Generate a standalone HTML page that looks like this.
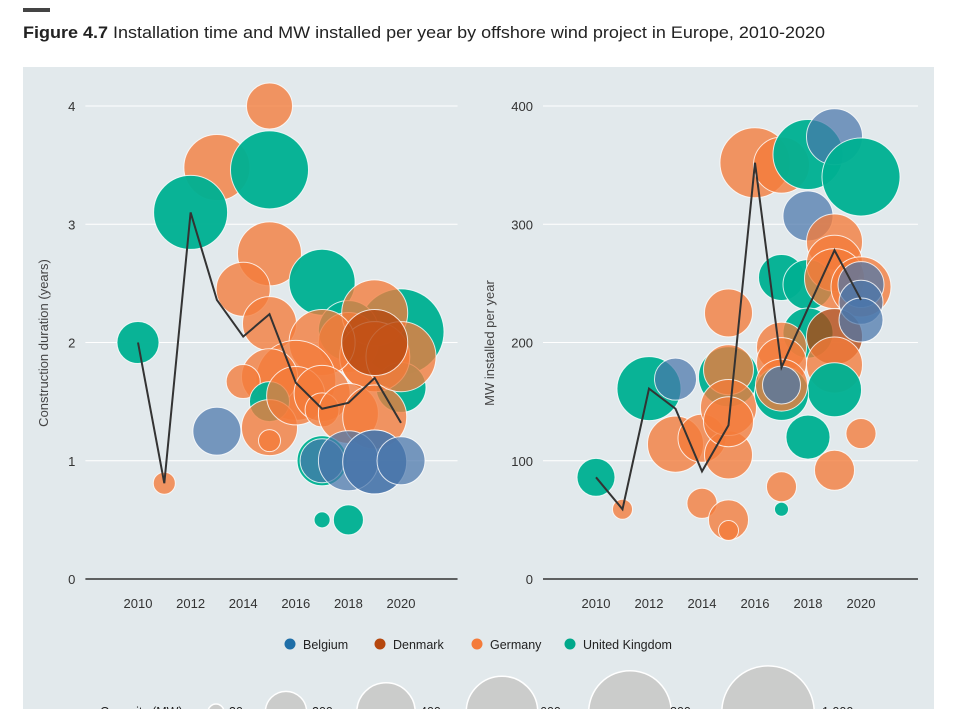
<!DOCTYPE html>
<html><head><meta charset="utf-8"><style>
body{margin:0;background:#fff;width:953px;height:709px;overflow:hidden;font-family:"Liberation Sans",sans-serif}
svg text{font-family:"Liberation Sans",sans-serif}
</style></head><body>
<svg id="c" width="953" height="709" style="display:block;overflow:hidden">
<rect x="23" y="8" width="27" height="4" fill="#444"/>
<text x="23" y="38" font-size="17" fill="#222" textLength="802" lengthAdjust="spacingAndGlyphs"><tspan font-weight="bold">Figure 4.7</tspan> Installation time and MW installed per year by offshore wind project in Europe, 2010-2020</text>
<rect x="23" y="67" width="911" height="642" fill="#e2e9ec"/>
<g id="left"></g>
<g id="right"></g>
<g id="legend"></g>
</svg>
<script>
const NS='http://www.w3.org/2000/svg';
const countries=['Belgium','Denmark','Germany','United Kingdom'];
const fills=['#4a76aa','#b5470e','#f47b3a','#00b092'];
const opac=[0.72,0.78,0.78,0.96];
const dotCols=['#1f6fa8','#b5470e','#f47b3a','#00a88a'];
const years=[2010,2011,2012,2013,2014,2015,2016,2017,2018,2019,2020];
const avgDuration=[2.0,0.81,3.1,2.36,2.05,2.24,1.66,1.44,1.49,1.70,1.32];
const avgMW=[86,59,161,144,91,130,352,179,229,278,236];
// left bubbles: year, duration, capacity, country index
const lYear=[2015,2013,2015,2012,2015,2017,2014,2015,2010,2020,2018,2018,2019,2019,2020,2019,2017,2016,2015,2014,2015,2015,2016,2015,2013,2011,2017,2017,2018,2019,2020,2019,2017,2017,2017,2018,2019];
const lDur=[4.0,3.48,3.46,3.1,2.75,2.51,2.45,2.16,2.0,2.09,2.1,2.0,2.25,1.88,1.62,1.88,2.0,1.68,1.71,1.67,1.5,1.28,1.55,1.17,1.25,0.81,1.57,1.43,1.4,1.37,1.88,2.0,1.0,1.0,0.5,0.5,0.99];
const lCap=[248,511,714,642,480,511,342,342,207,867,422,422,511,575,293,575,511,750,368,136,188,368,400,57,270,57,368,136,422,480,575,511,293,227,30,106,480];
const lCountry=[2,2,3,3,2,3,2,2,3,3,3,2,2,2,3,2,2,2,2,2,3,2,2,2,0,2,2,2,2,2,2,1,3,0,3,3,0];
const lBlueYear=[2018,2019,2020];
const lBlueDur=[1.0,0.99,1.0];
const lBlueCap=[422,480,270];
// right bubbles
const rYear=[2010,2011,2012,2013,2013,2014,2014,2015,2015,2015,2015,2015,2015,2015,2015,2016,2017,2018,2019,2020,2018,2019,2017,2018,2019,2019,2020,2018,2019,2019,2019,2017,2017,2017,2017,2017,2018,2020,2019,2017,2017,2020,2020,2020];
const rMW=[86,59,161,169,114,119,64,50,41,105,225,171,177,145,133,352,350,359,374,340,307,285,255,249,267,254,247,208,205,181,160,196,183,157,164,164,120,123,92,78,59,249,234,219];
const rCap=[169,47,480,207,368,270,106,188,47,270,270,422,293,368,293,575,368,575,368,714,293,368,248,293,368,422,422,293,368,368,342,293,293,342,317,169,227,106,188,106,23,248,227,227];
const rCountry=[3,2,3,0,2,2,2,2,2,2,2,3,2,2,2,2,2,3,0,3,0,2,3,3,2,2,2,3,1,2,3,2,2,3,2,0,3,2,2,2,3,0,0,0];
const legendCaps=[30,200,400,600,800,1000];
const legendLabels=['30','200','400','600','800','1,000'];
const K=1.46;
function el(t,a,p){const e=document.createElementNS(NS,t);for(const k in a)e.setAttribute(k,a[k]);p.appendChild(e);return e;}
function chart(g,x0,y0,x10,pyTop,vmax,ticks,title,titleX){
  const xs=y=>x0+(y-2010)*(x10-x0)/10;
  const ys=v=>579-(v/vmax)*(579-pyTop);
  ticks.forEach((t,i)=>{
    if(t>0){const l=el('line',{x1:xs(2008),x2:xs(2022.15),y1:ys(t),y2:ys(t),stroke:'#fff','stroke-width':1},g);
    
    }
    const tx=el('text',{x:xs(2008)-10,y:ys(t)+5,'font-size':13,fill:'#333','text-anchor':'end'},g);tx.textContent=t;
    
    
  });
  [2010,2012,2014,2016,2018,2020].forEach(y=>{
    const tx=el('text',{x:xs(y),y:608,'font-size':13,fill:'#333','text-anchor':'middle'},g);tx.textContent=y;
    
    
  });
  const ax=el('line',{x1:xs(2008),x2:xs(2022.15),y1:579,y2:579,stroke:'#333','stroke-width':1.5},g);
  
  
  const tt=el('text',{x:titleX,y:343,'font-size':13,fill:'#444','text-anchor':'middle',transform:`rotate(-90 ${titleX} 343)`},g);tt.textContent=title;
  
  
  return [xs,ys];
}
function bubbles(g,xs,ys,yr,val,cap,cty){
  for(let i=0;i<yr.length;i++){
    const c=el('circle',{cx:xs(yr[i]),cy:ys(val[i]),r:K*Math.sqrt(cap[i]),fill:fills[cty[i]],'fill-opacity':opac[cty[i]],stroke:'#fff','stroke-opacity':0.8,'stroke-width':1},g);
    
    
  }
}
function avgLine(g,xs,ys,vals){
  const p=el('polyline',{points:years.map((y,i)=>xs(y)+','+ys(vals[i])).join(' '),fill:'none',stroke:'#333','stroke-width':2},g);
  
  
}
const L=document.getElementById('left'),R=document.getElementById('right');
const [lx,ly]=chart(L,138,579,401,106,4,[0,1,2,3,4],'Construction duration (years)',48);
bubbles(L,lx,ly,lYear,lDur,lCap,lCountry);
bubbles(L,lx,ly,lBlueYear,lBlueDur,lBlueCap,[0,0,0]);
avgLine(L,lx,ly,avgDuration);
const [rx,ry]=chart(R,596,579,861,106,400,[0,100,200,300,400],'MW installed per year',494);
bubbles(R,rx,ry,rYear,rMW,rCap,rCountry);
avgLine(R,rx,ry,avgMW);
const G=document.getElementById('legend');
const lgX=[290,380,477,570];
countries.forEach((c,i)=>{
  const d=el('circle',{cx:lgX[i],cy:644,r:5.5,fill:dotCols[i]},G);
  
  
  const t=el('text',{x:lgX[i]+13,y:649,'font-size':12.5,fill:'#222'},G);t.textContent=c;
  
  
});
const capX=[216,286,386,502,630,768];
const capLX=[229,312,420,540,670,822];
const ct=el('text',{x:100,y:716,'font-size':12.5,fill:'#222'},G);ct.textContent='Capacity (MW)';


legendCaps.forEach((v,i)=>{
  const c=el('circle',{cx:capX[i],cy:712,r:K*Math.sqrt(v),fill:'#cbcccb',stroke:'#fff','stroke-width':1.5},G);
  
  
  const t=el('text',{x:capLX[i],y:716,'font-size':12.5,fill:'#222'},G);t.textContent=legendLabels[i];
  
  
});
</script>
</body></html>
